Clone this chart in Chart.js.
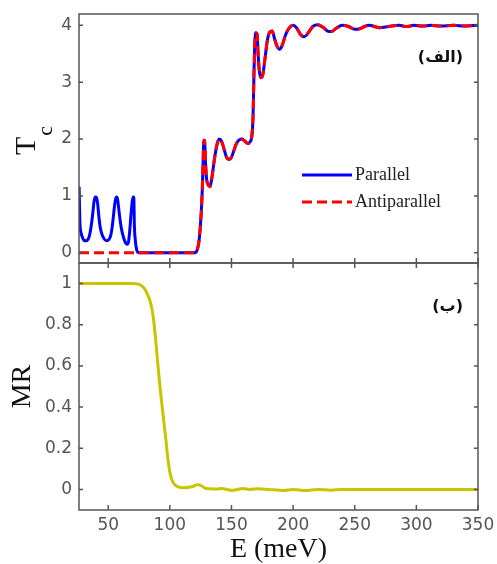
<!DOCTYPE html>
<html>
<head>
<meta charset="utf-8">
<title>Tc and MR vs E</title>
<script src="https://cdn.jsdelivr.net/npm/chart.js@4.4.1/dist/chart.umd.min.js"></script>
<style>
  html, body { margin: 0; padding: 0; background: #fff; }
  #wrap { position: relative; width: 497px; height: 564px; }
  canvas { position: absolute; left: 0; }
  #tcChart { top: 0; }
  #mrChart { top: 256px; }
</style>
</head>
<body>
<div id="wrap">
  <canvas id="tcChart" width="497" height="270"></canvas>
  <canvas id="mrChart" width="497" height="308"></canvas>
</div>
<script>
// energy range (meV) and tick labels
var eMin = 26.3, eMax = 350;
var eTicks = [50, 100, 150, 200, 250, 300, 350];
var tcTicks = [0, 1, 2, 3, 4];
var mrTicks = [0, 0.2, 0.4, 0.6, 0.8, 1];

// parallel configuration, resonances below the gap
var lowE = [26.4, 27.0, 28.0, 29.5, 31, 33, 34.5, 35.5, 36.5, 37.5, 38.5, 39.5, 40.5, 41.5, 42.5, 43.5, 45, 46.5, 48.5,
            50.5, 52, 53, 54, 55, 56, 56.8, 57.6, 58.5, 59.5, 60.5, 62, 63.5, 65.3, 66.5, 67.5, 68.5, 69.5, 70.2, 70.8,
            71.2, 72, 73, 74, 76, 90, 110, 119];
var lowParallel = [1.16, 0.55, 0.35, 0.25, 0.21, 0.22, 0.28, 0.38, 0.52, 0.7, 0.9, 0.98, 0.97, 0.85, 0.62, 0.45, 0.32, 0.25, 0.21,
                   0.23, 0.3, 0.42, 0.6, 0.8, 0.95, 0.98, 0.94, 0.78, 0.6, 0.45, 0.3, 0.2, 0.15, 0.2, 0.4, 0.68, 0.9, 0.98, 0.97,
                   0.5, 0.22, 0.06, 0.01, 0, 0, 0, 0];
// antiparallel stays closed there
var lowAntiE = [26.3, 119];
var lowAnti = [0, 0];

// both configurations above 120 meV
var highE = [120, 122, 123.5, 124.5, 125.5, 126.3, 127, 127.6, 128.2, 128.9, 129.8, 131, 132.5, 134, 136, 138, 140, 142, 144,
             146, 148, 150, 152, 154, 156, 158, 160, 162, 163.5, 165, 166.5, 167.5, 168.3, 169, 169.8, 170.8, 171.6, 172.6,
             174, 175.5, 177, 179, 181, 183, 185, 187, 189, 191, 194, 197, 200, 203, 206, 209, 212, 216, 220, 224, 228, 231,
             235, 240, 245, 250, 254, 258, 262, 266, 270, 275, 280, 286, 292, 298, 305, 312, 320, 330, 340, 350];
var highT = [0, 0.04, 0.18, 0.4, 0.72, 1.1, 1.6, 1.98, 1.97, 1.6, 1.3, 1.2, 1.16, 1.3, 1.62, 1.88, 2.0, 1.96, 1.82,
             1.68, 1.64, 1.68, 1.8, 1.92, 1.98, 2.0, 1.98, 1.94, 1.92, 1.95, 2.05, 2.4, 3.2, 3.72, 3.87, 3.84, 3.5, 3.2,
             3.08, 3.14, 3.38, 3.72, 3.88, 3.9, 3.76, 3.63, 3.58, 3.64, 3.84, 3.96, 4.0, 3.95, 3.84, 3.8, 3.86, 3.98, 4.01, 3.97, 3.9, 3.89,
             3.95, 4.0, 3.98, 3.93, 3.94, 3.98, 4.0, 3.98, 3.96, 3.97, 3.99, 4.0, 3.98, 4.0, 3.99, 4.0, 3.99, 4.0, 3.99, 4.0];

// magnetoresistance
var mrE = [26.3, 60, 70, 74, 77, 80, 82, 84, 86, 88, 89.5, 91, 92.5, 94, 95.5, 97, 98.5, 100, 101.5, 103, 105, 108, 112, 116,
           119, 121.5, 123.5, 125.5, 128, 132, 138, 142, 146, 150, 155, 159, 165, 171.5, 180, 192, 200, 210, 220, 230, 240,
           260, 300, 350];
var mrV = [1, 1, 1, 0.998, 0.99, 0.97, 0.945, 0.915, 0.86, 0.76, 0.66, 0.56, 0.47, 0.39, 0.31, 0.23, 0.145, 0.085, 0.05, 0.03,
           0.018, 0.01, 0.008, 0.011, 0.015, 0.022, 0.023, 0.018, 0.008, 0.003, 0.002, 0.004, 0, -0.004, 0, 0.004, 0, 0.003,
           0, -0.005, 0, -0.005, 0, -0.004, 0, 0, 0, 0];

function pts(xs, ys) {
    return xs.map(function (x, i) { return {x: x, y: ys[i]}; });
}

var tickFont = {family: 'DejaVu Sans', size: 17};
var tickColor = '#555';

// frame with inward ticks, panel tag, legend and the T_c label
var frame = {
    id: 'frame',
    afterDatasetsDraw: function (chart, args, opts) {
        var ctx = chart.ctx, a = chart.chartArea;
        var xs = chart.scales.x, ys = chart.scales.y;
        ctx.save();
        ctx.strokeStyle = '#555';
        ctx.lineWidth = 1.5;
        ctx.strokeRect(a.left, a.top, a.right - a.left, a.bottom - a.top);
        ctx.beginPath();
        xs.ticks.forEach(function (t) {
            var px = xs.getPixelForValue(t.value);
            ctx.moveTo(px, a.bottom);
            ctx.lineTo(px, a.bottom - 5);
            if (opts.topTicks) {
                ctx.moveTo(px, a.top);
                ctx.lineTo(px, a.top + 5);
            }
        });
        ys.ticks.forEach(function (t) {
            var py = ys.getPixelForValue(t.value);
            ctx.moveTo(a.left, py);
            ctx.lineTo(a.left + 4, py);
            ctx.moveTo(a.right, py);
            ctx.lineTo(a.right - 4, py);
        });
        ctx.stroke();

        // panel tag
        ctx.fillStyle = '#111';
        ctx.font = 'bold 16px "DejaVu Sans"';
        ctx.direction = 'rtl';
        ctx.textAlign = 'right';
        ctx.textBaseline = 'middle';
        ctx.fillText(opts.tag, a.right - 15, a.top + 44);
        ctx.direction = 'ltr';

        if (opts.legend) {
            chart.data.datasets.forEach(function (ds, i) {
                var y = a.top + 161 + i * 27;
                var x0 = a.left + 223;
                ctx.strokeStyle = ds.borderColor;
                ctx.lineWidth = ds.borderWidth;
                ctx.setLineDash(ds.borderDash || []);
                ctx.beginPath();
                ctx.moveTo(x0, y);
                ctx.lineTo(x0 + 50, y);
                ctx.stroke();
                ctx.setLineDash([]);
                ctx.fillStyle = '#222';
                ctx.font = '18px "Liberation Serif"';
                ctx.textAlign = 'left';
                ctx.textBaseline = 'middle';
                ctx.fillText(ds.label, x0 + 53, y);
            });
        }

        if (opts.tcTitle) {
            ctx.translate(35, 155);
            ctx.rotate(-Math.PI / 2);
            ctx.fillStyle = '#111';
            ctx.textAlign = 'left';
            ctx.textBaseline = 'alphabetic';
            ctx.font = '30px "Liberation Serif"';
            ctx.fillText('T', 0, 0);
            var w = ctx.measureText('T').width;
            ctx.font = '22px "Liberation Serif"';
            ctx.fillText('c', w + 1, 17);
        }
        ctx.restore();
    }
};

function panelOptions(yMin, yMax, yTicks, bottomPanel, frameOpts) {
    return {
        responsive: false,
        animation: false,
        events: [],
        layout: {padding: {left: 0, right: 19, top: bottomPanel ? 7 : 14, bottom: bottomPanel ? 0 : 7}},
        plugins: {
            legend: {display: false},
            tooltip: {enabled: false},
            frame: frameOpts
        },
        elements: {point: {radius: 0}},
        scales: {
            x: {
                type: 'linear',
                min: eMin,
                max: eMax,
                afterBuildTicks: function (scale) {
                    scale.ticks = eTicks.map(function (v) { return {value: v}; });
                },
                afterFit: function (scale) {
                    scale.height = bottomPanel ? 54 : 0;
                    scale.paddingLeft = 0;
                    scale.paddingRight = 0;
                },
                grid: {display: false, drawTicks: false},
                border: {display: false},
                ticks: {
                    display: bottomPanel,
                    font: tickFont,
                    color: tickColor,
                    padding: 5,
                    maxRotation: 0,
                    callback: function (v) { return String(v); }
                },
                title: {
                    display: bottomPanel,
                    text: 'E (meV)',
                    color: '#111',
                    font: {family: 'Liberation Serif', size: 28, lineHeight: 1},
                    padding: {top: 0, bottom: 0}
                }
            },
            y: {
                type: 'linear',
                min: yMin,
                max: yMax,
                afterBuildTicks: function (scale) {
                    scale.ticks = yTicks.map(function (v) { return {value: v}; });
                },
                afterFit: function (scale) {
                    scale.width = 79;
                    scale.paddingTop = 0;
                    scale.paddingBottom = 0;
                },
                grid: {display: false, drawTicks: false},
                border: {display: false},
                ticks: {
                    font: tickFont,
                    color: tickColor,
                    padding: 7,
                    callback: function (v) { return String(v); }
                },
                title: {
                    display: bottomPanel,
                    text: 'MR',
                    color: '#111',
                    font: {family: 'Liberation Serif', size: 28, lineHeight: 1},
                    padding: {top: 9, bottom: 0}
                }
            }
        }
    };
}

var tcChart = new Chart(document.getElementById('tcChart'), {
    type: 'line',
    data: {
        datasets: [{
            label: 'Parallel',
            data: pts(lowE.concat(highE), lowParallel.concat(highT)),
            borderColor: '#0000ff',
            borderWidth: 3,
            cubicInterpolationMode: 'monotone',
            order: 2
        }, {
            label: 'Antiparallel',
            data: pts(lowAntiE.concat(highE), lowAnti.concat(highT)),
            borderColor: '#ff0000',
            borderWidth: 3,
            borderDash: [10, 5],
            cubicInterpolationMode: 'monotone',
            order: 1
        }]
    },
    options: panelOptions(-0.18, 4.2, tcTicks, false, {tag: '(الف)', legend: true, tcTitle: true, topTicks: false}),
    plugins: [frame]
});

var mrChart = new Chart(document.getElementById('mrChart'), {
    type: 'line',
    data: {
        datasets: [{
            label: 'MR',
            data: pts(mrE, mrV),
            borderColor: '#c8c400',
            borderWidth: 3,
            cubicInterpolationMode: 'monotone'
        }]
    },
    options: panelOptions(-0.1, 1.1, mrTicks, true, {tag: '(ب)', legend: false, tcTitle: false, topTicks: true}),
    plugins: [frame]
});
</script>
</body>
</html>
